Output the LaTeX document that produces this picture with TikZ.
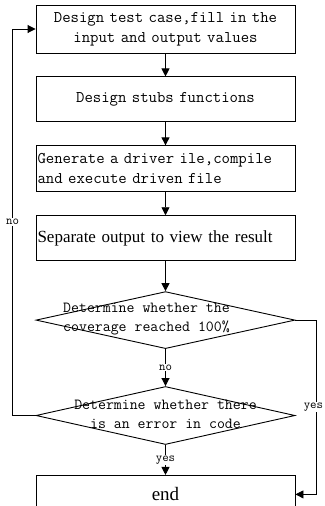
\documentclass[tikz,border=0pt]{standalone}
\usepackage{fontspec}
\setmainfont{Liberation Serif}
\usetikzlibrary{arrows.meta,positioning,shapes.geometric}

\begin{document}
\begin{tikzpicture}[x=1pt,y=1pt,node distance=23pt,line width=0.9pt,
    >={Triangle[length=8pt,width=8pt]}]
  % boxes, decisions and the small labels on the lines
  \tikzstyle{nodeBox}=[rectangle,draw=black,text width=255pt,inner xsep=2pt,inner ysep=0pt,align=center,font=\ttfamily\fontsize{16.3}{20}\selectfont]
  \tikzstyle{nodeLeft}=[nodeBox,align=left,inner xsep=1.5pt,text width=256pt]
  \tikzstyle{nodeDec}=[diamond,draw=black,minimum width=259pt,inner sep=0pt]
  \tikzstyle{decText}=[align=center,font=\ttfamily\fontsize{15.4}{19.5}\selectfont]
  \tikzstyle{lbl}=[fill=white,inner sep=1pt,font=\ttfamily\fontsize{12.5}{14}\selectfont]

  \useasboundingbox (0,0) rectangle (324,-506);

  \node[nodeBox, minimum height=48pt]    (case) at (165.5,-29) {Design test case,fill in the\\input and output values};
  \node[nodeBox, minimum height=45pt]    (stub) [below=of case] {Design stubs functions};
  \node[nodeLeft, minimum height=46pt]   (drv)  [below=of stub] {Generate a driver ile,compile\\and execute driven file};
  \node[nodeLeft, minimum height=45pt, font=\rmfamily\fontsize{17}{20}\selectfont] (sep) [below=of drv] {Separate output to view the result};
  \node[nodeDec, minimum height=57pt]    (cov)  [below=30pt of sep] {};
  \node[decText, xshift=-19pt, yshift=1pt] at (cov) {Determine whether the\\coverage reached 100\%};
  \node[nodeDec, minimum height=58pt]    (err)  [below=37pt of cov] {};
  \node[decText, yshift=1pt] at (err) {Determine whether there\\is an error in code};
  \node[nodeBox, minimum height=38pt, font=\rmfamily\fontsize{19}{22}\selectfont] (end) [below=30pt of err] {end};

  \coordinate[left=23pt of err.west]  (loopL);
  \coordinate[right=21pt of cov.east] (loopR);

  \path[->] (case) edge (stub);
  \path[->] (stub) edge (drv);
  \path[->] (drv)  edge (sep);
  \path[->] (sep)  edge (cov);
  \path[->] (cov)  edge node[lbl] {no} (err);
  \path[->] (err)  edge node[lbl] {yes} (end);
  \draw[->] (err.west) -- (loopL) |- node[lbl, pos=0.25] {no} (case.west);
  \draw[->] (cov.east) -- (loopR) |- node[lbl, pos=0.25, xshift=-3pt] {yes} (end.east);
\end{tikzpicture}
\end{document}
